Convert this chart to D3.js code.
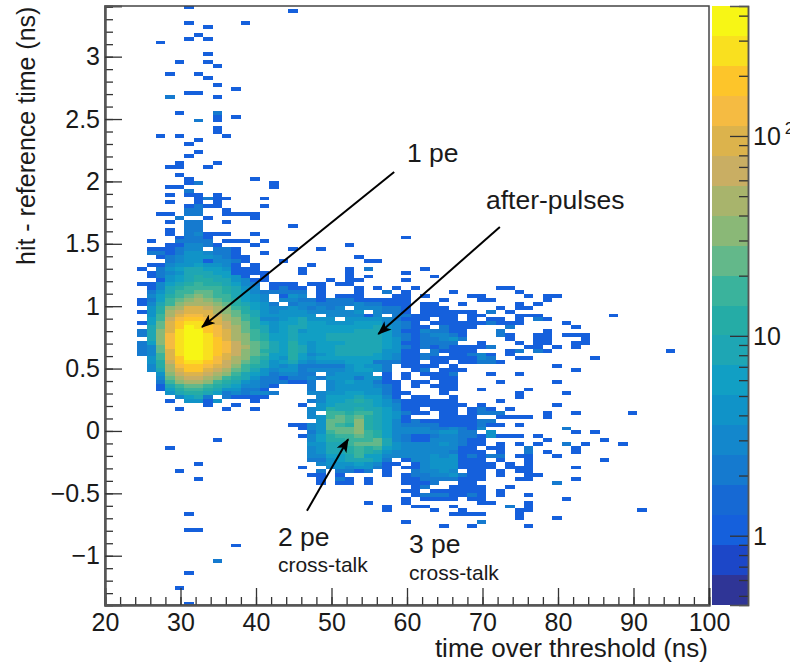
<!DOCTYPE html>
<html>
<head>
<meta charset="utf-8">
<script src="https://cdn.jsdelivr.net/npm/d3@7"></script>
<style>
  html, body { margin: 0; padding: 0; background: #fff; overflow: hidden; }
  text { font-family: "Liberation Sans", sans-serif; fill: #1a1a1a; }
</style>
</head>
<body>
<div id="chart"></div>
<script>
// bins of the 2D histogram
const binOriginX = 20.5, binWidthX = 1.25;
const binTopY = 3.41, binHeightY = 0.03125;

// each row entry: [row from top, first x bin, counts]
const upperTail = [
  [0,8,[1]],[1,19,[1]],[4,8,[1]],[4,14,[1]],[5,10,[1]],[7,9,[1]],[8,8,[1]],[8,10,[1]],[9,5,[1]],
  [12,10,[1]],[14,7,[1]],[14,10,[1]],[15,11,[1]],[17,6,[1]],[17,9,[1]],[18,10,[1]],[20,11,[1]],
  [21,13,[1]],[22,8,[1,1]],[23,6,[2]],[23,11,[1]],[27,7,[1]],[27,11,[2]],[28,11,[1]],[28,13,[1]],
  [29,9,[2]],[29,11,[1]],[31,11,[1]],[32,11,[1]],[33,5,[1]],[33,7,[1]],[33,12,[1]],[34,9,[1]],
  [35,8,[1]],[37,9,[1]],[38,8,[1]],[40,7,[1]],[40,11,[1]],[41,6,[1,1]],[41,10,[1]],[43,7,[1]],
  [44,8,[1]],[44,15,[1]],[45,8,[1,2]],[45,17,[1]],[46,6,[1,1]],[46,17,[1]],[47,8,[2]],
  [48,6,[1]],[48,8,[1,1]],[48,11,[1]],[49,9,[1,2,1,1]],[49,16,[1]],[50,6,[1]],[50,9,[1]],[50,11,[1]],
  [51,8,[1,2,1,1]],[51,16,[1]],[52,8,[2,2]],[52,12,[1]],[53,5,[1,1]],[53,8,[2,2]],[53,12,[1,1,1,1]],
  [54,7,[2]],[54,10,[1]],[54,15,[1]]
];

const peakShoulder = [
  [55,6,[1,0,2,2,0,0,1]],[56,8,[2,2]],[56,19,[1]],[57,6,[1,0,2,2]],[58,6,[1,0,2,3,1,1,1,0,0,1]],
  [59,7,[1,2,2,1]],[59,31,[1]],[60,4,[1,0,0,2,2,2,2,0,1,1,1,0,1]],[61,6,[1,1,3,3,2,1,0,0,0,1]],[61,25,[1]],
  [62,4,[1,1,1,2,3,3,0,2,2,1]],[62,19,[1]],[62,22,[1]],[63,4,[2,2,1,2,4,4,3,2,2,1,0,0,1]],
  [64,5,[1,2,3,4,4,4,3,2,1,1]],[64,26,[1]],[65,6,[2,3,4,5,1,3,3,2,1]],[65,18,[1]],[65,27,[1,1]],
  [66,4,[1,1,3,4,5,6,5,5,3,1,0,1]],[66,21,[1]],
  [67,3,[1,0,2,4,6,8,8,7,6,4,1,1,1]],[67,20,[1]],[67,25,[1]],[67,27,[2]],[67,33,[1]],
  [68,4,[1,2,3,5,8,9,8,7,6,1,1,1,1]],[68,20,[1]],[68,25,[1]],[68,31,[1]],
  [69,4,[1,2,4,6,9,11,10,9,7,5,1,0,1]],[69,25,[1]],[69,27,[1]],[69,34,[1]],
  [70,5,[1,5,7,10,12,12,10,8,5,3,1,1]],[70,23,[1]],[70,25,[1,1]],[70,31,[1]],
  [71,3,[1,1,3,6,10,14,15,13,11,8,6,3,2,0,1,1,1]],[71,21,[1,1]],[71,24,[1,1]],
  [72,4,[1,3,8,12,18,20,18,15,11,9,5,3,0,1,2,1,1]],[72,22,[1]],[72,26,[1]],[72,28,[1]],[72,30,[1]],[72,32,[1]],
  [73,4,[2,4,9,15,20,24,22,18,13,9,6,3,2,2,2,2,2]],[73,22,[1]],[73,26,[1]],[73,29,[2]],[73,31,[1]],[73,36,[1]]
];

// 1 pe peak plus the after-pulse band to its right, x bins 3 to 38
const peakRows = [
  [74,4,[3,6,12,20,28,30,26,20,15,10,7,4,3,0,1,4,3,0,1,0,1,1,1,0,0,0,1,1,0,1,0,0,0,0,1]],
  [75,3,[1,2,7,15,28,38,40,35,25,18,12,7,5,3,0,3,3,2,2,1,2,2,2,1,1,1,1,1,1,0,0,0,1]],
  [76,3,[1,3,8,20,38,55,55,45,32,22,14,9,6,4,2,0,2,3,3,2,2,2,2,3,2,2,1,1,1,0,1,1,0,0,1]],
  [77,4,[4,11,30,55,80,80,60,42,30,18,11,7,5,3,3,4,3,2,3,2,3,0,3,3,3,2,2,1,0,1,1,1]],
  [78,3,[1,4,14,40,75,110,105,80,55,38,22,13,8,5,3,4,4,4,3,3,3,3,3,4,0,3,2,2,1,0,1,1,1,1,1,1]],
  [79,4,[5,16,55,105,150,140,100,70,48,28,16,10,4,4,5,5,5,4,0,3,3,3,3,1,3,0,2,2,1,1,1,1,1,0,1]],
  [80,4,[6,20,70,140,210,190,130,85,55,33,19,11,3,3,5,6,8,5,5,5,0,4,5,5,5,3,2,1,1,1,0,1,1,0,1]],
  [81,3,[1,7,24,85,180,280,240,160,100,62,36,21,12,6,4,6,7,10,6,6,5,4,5,6,6,6,3,3,2,1,0,1,1,1,1,1]],
  [82,4,[8,28,95,210,330,290,190,115,70,40,24,14,8,5,6,8,8,6,6,6,6,6,7,7,8,4,3,2,1,1,0,2,1,1,1]],
  [83,3,[2,8,30,105,240,380,340,210,130,80,46,28,16,10,5,7,10,5,6,7,7,7,7,8,9,10,6,3,1,1,3,2,2,1,1]],
  [84,3,[2,9,32,115,260,420,390,240,150,90,50,30,18,11,6,6,9,7,6,7,8,9,9,9,9,10,6,3,2,1,2,3,3,2,1]],
  [85,4,[9,34,125,280,440,440,260,165,100,56,32,20,13,7,6,10,7,6,7,9,8,8,8,9,9,6,4,2,1,2,2,3,4,2]],
  [86,3,[2,7,30,130,290,445,445,290,190,120,66,38,24,15,8,7,12,7,5,6,7,7,9,8,9,8,6,4,1,1,2,2,2,2]],
  [87,3,[2,3,28,130,290,440,445,300,200,130,70,40,25,16,8,7,14,8,4,6,7,8,8,10,8,9,6,4,2,1,2,1,2,1,1,1]],
  [88,3,[2,3,24,110,270,430,445,310,210,125,68,38,24,14,8,7,12,9,5,6,7,10,9,9,8,8,5,4,1,1,0,2,1,1,1,1]],
  [89,3,[2,3,20,100,240,400,420,270,190,110,60,35,22,15,7,7,13,6,3,5,6,8,8,8,9,7,5,3,1,1,2,2,0,1,1,2]],
  [90,4,[4,16,80,200,340,360,230,150,90,50,30,18,12,6,5,11,6,5,6,6,6,7,7,7,6,5,3,1,1,2,1,1,1,1,1]],
  [91,4,[5,14,70,165,270,290,190,120,78,42,26,15,10,4,6,10,5,3,5,5,5,6,7,6,2,2,2,1,1,0,1,1,0,1,1]],
  [92,4,[3,12,55,130,210,220,145,90,60,32,20,13,8,5,3,5,2,2,2,2,2,5,6,5,5,2,0,1,1,1,1,0,1]],
  [93,4,[3,10,42,100,165,170,110,70,45,25,16,9,5,3,4,4,2,3,3,3,3,5,6,6,4,2,0,0,1,2,0,1,1,1]],
  [94,5,[5,30,65,105,110,75,48,32,18,10,6,4,2,3,3,2,2,0,3,4,4,4,4,0,1,0,1,0,1,1,1,2]],
  [95,5,[3,22,46,72,72,48,30,20,12,8,4,2,2,1,2,2,3,2,4,4,5,2,4,4,1,0,1,0,0,1,1,1]],
  [96,5,[2,15,32,46,46,30,20,12,9,5,3,2,2,2,1,1,2,0,3,4,6,5,5,2,1,1,0,1,1,0,1,1]],
  [97,5,[1,10,18,28,28,18,13,8,6,3,3,2,1]],
  [98,5,[1,7,12,18,20,12,9,5,4,2,2,1]],
  [99,6,[5,8,12,12,9,6,2,3,2,3,3,2]],
  [100,7,[3,7,8,2,0,2,1,1,1,1]],
  [101,6,[1,0,5,5,1,4,0,0,0,1]],
  [102,10,[1]],[102,13,[1]],[103,7,[1]],[103,12,[1]],[103,15,[1]]
];

// 2 pe and 3 pe lobes, x bins 19 to 38
const lobeRows = [
  [97,21,[2,0,3,4,4,4,4,3,2,1,0,1,0,1,1,1]],
  [98,21,[2,0,3,5,5,5,5,5,2,1,0,0,0,0,1,1]],
  [99,21,[3,3,4,5,6,6,5,4,2,1,1,0,0,0,1]],
  [100,21,[0,3,6,6,7,9,7,6,3,1,0,1,1,0,0,1]],
  [101,21,[2,3,7,7,8,12,9,7,4,2,1,1,1,1,1,1]],
  [102,20,[1,0,4,6,8,9,9,8,6,5,3,1,1,1,1,1,1,1]],
  [103,21,[3,4,12,8,10,14,9,8,6,3,1,1,0,1,1,1,0,1]],
  [104,21,[3,0,16,15,12,16,15,8,6,4,2,1,1,0,1,1,0,1]],
  [105,21,[3,5,20,25,16,22,14,9,6,4,1,0,0,0,1,1,1,1]],
  [106,22,[4,22,22,20,30,14,10,7,3,1,2,1,1,1,1,1,1]],
  [107,19,[1,1,3,5,24,18,14,35,14,9,7,3,2,2,2,2,1,1,1,1]],
  [108,20,[1,3,5,22,28,25,35,14,9,7,3,3,3,3,2,2,3,2,1]],
  [109,21,[2,4,20,22,28,30,16,12,7,3,3,3,3,3,4,4,2,2]],
  [110,20,[1,3,6,14,18,20,22,16,11,7,3,2,1,1,2,3,3,2,2]],
  [111,21,[3,6,12,12,15,16,20,22,8,3,2,1,1,3,3,3,2,1]],
  [112,21,[5,4,9,10,16,24,24,22,8,4,3,3,3,3,4,3,2,1]],
  [113,21,[3,5,8,10,14,16,14,16,7,4,3,3,3,3,3,3,1,1]],
  [114,21,[3,5,8,10,13,16,12,8,5,3,3,3,3,3,3,2,1,1]],
  [115,21,[3,3,6,7,10,15,7,7,3,3,3,3,3,4,3,4,1,2]],
  [116,21,[2,2,5,6,9,10,8,6,2,0,1,3,3,5,4,5,1,1]],
  [117,22,[3,4,5,5,7,5,3,1,1,0,1,3,5,5,4,1,1]],
  [118,20,[1,0,0,3,4,3,4,4,2,1,0,1,1,3,4,4,5,1,1]],
  [119,22,[2,0,2,2,1,2,0,1,0,0,2,3,3,4,3,0,1]],
  [120,21,[1,1,0,1,0,0,0,0,1,0,1,2,2,3,3,4,2,1]],
  [121,22,[1,0,2,1,0,1,0,0,0,1,1,2,2,2,2,1,1]],
  [122,22,[1,0,1,1,0,1,0,0,0,1,1,1,2,0,0,1,1]],
  [123,32,[1,2,0,0,1,1,1]],
  [124,31,[1,1,0,1,1,1,1,1]],
  [125,32,[1,2,2,2,1,1,2]],
  [126,31,[1,0,1,1,1,1,0,1]],
  [127,27,[1]],[127,31,[1]],
  [128,29,[1]],[128,32,[1,1]],[128,36,[1]],
  [129,29,[1]],[129,34,[1]],[129,37,[1]],
  [130,36,[1,1,1]],
  [132,31,[1]],
  [133,35,[1]],[133,38,[1]]
];

// sparse cells from x bin 39 on
const rightTail = [
  [72,41,[1,1]],[73,43,[1]],[74,39,[1]],[74,44,[1]],[74,46,[1,1]],[75,39,[1,1]],[75,46,[1]],[76,43,[1]],[76,45,[1]],
  [77,41,[1]],[77,43,[1,1]],[78,40,[2]],[78,42,[1]],[79,39,[1]],[79,43,[1,1,1]],[79,53,[1]],[80,40,[1,1]],[80,43,[1]],
  [80,45,[2,1]],[81,39,[1,2,1,1,1]],[81,48,[1]],[82,42,[2]],[82,49,[1]],[83,41,[2]],[83,46,[1]],[84,41,[2,1]],
  [84,45,[1,1]],[84,48,[1,1,1]],[85,42,[1]],[85,45,[1,1]],[85,50,[1]],[86,39,[1]],[86,43,[1]],[86,45,[1,1]],[86,49,[1,1]],
  [87,39,[1,2]],[87,44,[1,1]],[87,47,[1]],[87,49,[1]],[88,42,[1,2]],[88,45,[2,1]],[88,59,[1]],[89,39,[3,1]],[89,42,[1]],
  [90,39,[3,2]],[90,43,[1,1]],[90,51,[1]],[91,39,[2,2,1]],[92,47,[1]],[93,49,[1]],[94,40,[1]],[94,43,[1]],[96,41,[1]],
  [96,47,[1]],[98,39,[1]],[98,44,[1]],[99,43,[1]],[99,48,[1]],[100,43,[1]],[101,41,[1]],[102,39,[1]],[102,47,[1]],
  [103,39,[2,1]],[103,42,[1]],[104,39,[2,2,2]],[104,46,[1]],[104,49,[1]],[104,55,[1]],[105,41,[1,1,1,1]],[105,46,[1]],
  [106,39,[2,2]],[107,39,[2,1,1]],[107,43,[1]],[108,39,[3]],[108,48,[2]],[109,40,[4]],[109,49,[1]],[109,51,[1]],
  [110,39,[1,4,1,1,1]],[110,45,[1]],[111,39,[1]],[111,46,[1]],[111,52,[1]],[112,39,[1]],[112,41,[1]],[112,43,[1]],[112,45,[1]],[112,48,[2]],[112,50,[1]],[112,54,[1]],
  [113,40,[1,1]],[113,44,[2]],[113,49,[1]],[114,39,[1]],[114,41,[1]],[114,44,[2]],[114,46,[1]],[114,49,[1]],
  [115,39,[1,2,2]],[115,43,[1,1]],[115,47,[1]],[116,39,[1]],[116,41,[1]],[116,44,[1]],[116,52,[1]],[117,39,[1,1]],[117,42,[1]],[117,44,[1]],
  [118,39,[1,1]],[118,42,[1,1,1]],[118,49,[1]],[119,41,[1]],[119,39,[1]],[119,43,[1,1]],[120,39,[1]],[120,41,[1]],[120,44,[1,1]],[121,39,[1]],[121,43,[1,1]],[121,49,[1]],
  [122,47,[2]],[123,39,[1]],[123,42,[1]],[124,39,[1]],[124,41,[1]],[125,39,[1]],[125,41,[1]],[125,44,[1]],[126,39,[1]],[126,48,[1]],[127,39,[1,1]],[127,44,[1]],
  [128,42,[2]],[128,44,[1]],[129,43,[1,1]],[129,56,[1]],[130,39,[1]],[130,43,[1]],[131,43,[1]],[131,47,[1]],[132,39,[2]],[133,44,[1]]
];

const lowerTail = [
  [102,20,[1]],[107,19,[1,1]],[108,20,[1]],[111,11,[1]],[113,6,[1]],[117,9,[1]],[119,7,[1]],[121,9,[1]],[130,8,[1]],
  [134,8,[1,1]],[138,13,[1]],[142,11,[2]],[145,8,[1]],[149,7,[1]],[153,8,[1]]
];

const xMajor = [20, 30, 40, 50, 60, 70, 80, 90, 100];
const yMajor = [3, 2.5, 2, 1.5, 1, 0.5, 0, -0.5, -1];
const zMinor = [0.5, 0.6, 0.7, 0.8, 0.9, 2, 3, 4, 5, 6, 7, 8, 9, 20, 30, 40, 50, 60, 70, 80, 90, 200, 300, 400];
const zMajor = [1, 10, 100];

// colour bands, top of the palette first
const palette = ["#f7f615", "#f9e01f", "#fdc52a", "#f5bb42", "#dcb34c", "#c9ae63", "#a8b46c", "#8ab877", "#63b88a", "#3ab39c",
  "#25aca6", "#1ea6b4", "#119fc4", "#1093c8", "#1387cc", "#157acf", "#1669d4", "#1560dc", "#1c47c8", "#2f3596"];

const notes = [
  { label: "1 pe", x: 60, y: 2.156, size: 26.5 },
  { label: "after-pulses", x: 70.46, y: 1.78, size: 26.5 },
  { label: "2 pe", x: 42.9, y: -0.92, size: 26.5 },
  { label: "cross-talk", x: 42.9, y: -1.13, size: 21 },
  { label: "3 pe", x: 60.26, y: -0.98, size: 26.5 },
  { label: "cross-talk", x: 60.26, y: -1.194, size: 21 }
];
const arrows = [
  { x0: 58.3, y0: 2.076, x1: 32.85, y1: 0.833 },
  { x0: 72.3, y0: 1.635, x1: 56.2, y1: 0.777 },
  { x0: 46.75, y0: -0.64, x1: 52.2, y1: -0.066 }
];

const totalW = 794, totalH = 664;
const margin = { top: 6, right: 85, bottom: 59, left: 105 },
  width = totalW - margin.left - margin.right,
  height = totalH - margin.top - margin.bottom;

const svg = d3.select("#chart").append("svg")
  .attr("width", totalW)
  .attr("height", totalH)
  .style("display", "block");

const g = svg.append("g")
  .attr("transform", "translate(" + margin.left + "," + margin.top + ")");

const x = d3.scaleLinear().domain([20, 100]).range([0, width]);
const y = d3.scaleLinear().domain([-1.395, 3.406]).range([height, 0]);

// z axis in log, colours are quantized along the bar
const z = d3.scaleLog().domain([0.45, 447]).range([height, 0]);
const band = d3.scaleQuantize().domain([0, height]).range(palette);

const defs = svg.append("defs");
defs.append("clipPath").attr("id", "frame")
  .append("rect").attr("width", width).attr("height", height);
// the exponent of 10^2 is cut off at the right in the original
defs.append("clipPath").attr("id", "zclip")
  .append("rect").attr("width", 78).attr("height", totalH);

// flatten all the row lists into cells
const cells = [];
[upperTail, peakShoulder, peakRows, lobeRows, rightTail, lowerTail].forEach(list => {
  list.forEach(([row, first, counts]) => {
    counts.forEach((c, k) => {
      if (c > 0) cells.push({ row: row, bin: first + k, count: c });
    });
  });
});

g.append("g").attr("clip-path", "url(#frame)")
  .selectAll("rect")
  .data(cells)
  .join("rect")
  .attr("x", d => x(binOriginX + d.bin * binWidthX))
  .attr("y", d => y(binTopY - d.row * binHeightY))
  .attr("width", x(binWidthX) - x(0))
  .attr("height", y(0) - y(binHeightY))
  .attr("fill", d => band(z(d.count)))
  .attr("shape-rendering", "crispEdges");

// frame
g.append("rect")
  .attr("width", width).attr("height", height)
  .attr("fill", "none").attr("stroke", "#444").attr("stroke-width", 1.5);

// axes, ROOT style: ticks pointing into the frame
const xAxisMinor = d3.axisBottom(x).tickValues(d3.range(20, 101, 2)).tickSize(-8);
const xAxisMajor = d3.axisBottom(x).tickValues(xMajor).tickSize(-17).tickPadding(8).tickFormat(d3.format("d"));
const yAxisMinor = d3.axisLeft(y).tickValues(d3.range(-13, 35).map(d => d / 10)).tickSize(-8);
const yAxisMajor = d3.axisLeft(y).tickValues(yMajor).tickSize(-17).tickPadding(5).tickFormat(d3.format("~g"));

g.append("g").attr("class", "axis").attr("transform", "translate(0," + height + ")").call(xAxisMinor)
  .selectAll("text").remove();
g.append("g").attr("class", "axis").attr("transform", "translate(0," + height + ")").call(xAxisMajor);
g.append("g").attr("class", "axis").call(yAxisMinor)
  .selectAll("text").remove();
g.append("g").attr("class", "axis").call(yAxisMajor);
g.selectAll(".axis .domain").attr("stroke", "#555").attr("stroke-width", 2);
g.selectAll(".axis line").attr("stroke", "#333").attr("stroke-width", 1.3);
g.selectAll(".axis text").style("font-size", "25px").style("fill", "#1a1a1a");

svg.append("text")
  .attr("x", 708).attr("y", 657)
  .attr("text-anchor", "end")
  .style("font-size", "26px")
  .text("time over threshold (ns)");

svg.append("text")
  .attr("transform", "translate(35,265) rotate(-90)")
  .style("font-size", "25px")
  .text("hit - reference time (ns)");

// colour bar
const bar = svg.append("g").attr("transform", "translate(712," + margin.top + ")");
bar.selectAll("rect")
  .data(palette)
  .join("rect")
  .attr("width", 36)
  .attr("y", d => band.invertExtent(d)[0])
  .attr("height", d => band.invertExtent(d)[1] - band.invertExtent(d)[0])
  .attr("fill", d => d)
  .attr("shape-rendering", "crispEdges");

const zAxisG = bar.append("g").attr("transform", "translate(36,0)");
zAxisG.append("g").call(d3.axisLeft(z).tickValues(zMinor).tickSize(9)).selectAll("text").remove();
zAxisG.append("g").call(d3.axisLeft(z).tickValues(zMajor).tickSize(18)).selectAll("text").remove();
zAxisG.selectAll(".domain").attr("stroke", "#555").attr("stroke-width", 1.5);
zAxisG.selectAll("line").attr("stroke", "#333").attr("stroke-width", 1.3);

const zLabels = bar.append("g").attr("clip-path", "url(#zclip)")
  .selectAll("text")
  .data(zMajor)
  .join("text")
  .attr("x", 41)
  .attr("y", d => z(d) + 9)
  .style("font-size", "25px")
  .text(d => d === 100 ? "10" : d);
zLabels.filter(d => d === 100).append("tspan")
  .attr("dx", 4).attr("dy", -11).style("font-size", "17px").text("2");

// annotations
defs.append("marker")
  .attr("id", "head")
  .attr("viewBox", "0 0 14 11")
  .attr("refX", 13).attr("refY", 5.5)
  .attr("markerWidth", 14).attr("markerHeight", 11)
  .attr("markerUnits", "userSpaceOnUse")
  .attr("orient", "auto")
  .append("path").attr("d", "M0,0L14,5.5L0,11L3.5,5.5Z").attr("fill", "#000");

g.selectAll(".arrow")
  .data(arrows)
  .join("line")
  .attr("class", "arrow")
  .attr("x1", d => x(d.x0)).attr("y1", d => y(d.y0))
  .attr("x2", d => x(d.x1)).attr("y2", d => y(d.y1))
  .attr("stroke", "#000").attr("stroke-width", 2)
  .attr("marker-end", "url(#head)");

g.selectAll(".note")
  .data(notes)
  .join("text")
  .attr("class", "note")
  .attr("x", d => x(d.x)).attr("y", d => y(d.y))
  .style("font-size", d => d.size + "px")
  .text(d => d.label);
</script>
</body>
</html>
